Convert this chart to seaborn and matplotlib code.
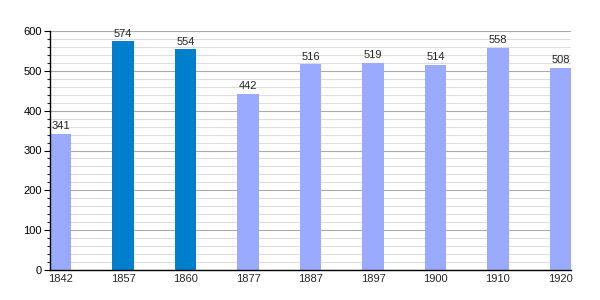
import matplotlib
matplotlib.use("Agg")
import matplotlib.pyplot as plt
import seaborn as sns
import pandas as pd
from matplotlib.ticker import MultipleLocator

years = ["1842", "1857", "1860", "1877", "1887", "1897", "1900", "1910", "1920"]
values = [341, 574, 554, 442, 516, 519, 514, 558, 508]
colors = ["#99aaff", "#0080cc", "#0080cc", "#99aaff", "#99aaff", "#99aaff", "#99aaff", "#99aaff", "#99aaff"]

sns.set_style("white")
plt.rcParams['font.family'] = ['Liberation Sans', 'DejaVu Sans']

df = pd.DataFrame({"year": years, "value": values})
fig = plt.figure(figsize=(6, 3), dpi=100)
ax = fig.add_axes([50/600, 30/300, 521/600, 239/300])
sns.barplot(data=df, x="year", y="value", hue="year", palette=colors, legend=False,
            width=0.34, ax=ax, saturation=1, order=years, hue_order=years, linewidth=0)
for c in ax.containers:
    ax.bar_label(c, padding=2, fontsize=8)

ax.set_xlim(-0.17, 8.17)
ax.set_ylim(0, 600)
ax.yaxis.set_major_locator(MultipleLocator(100))
ax.yaxis.set_minor_locator(MultipleLocator(20))
ax.grid(True, which="major", axis="y", color="#aaaaaa", linewidth=0.8)
ax.grid(True, which="minor", axis="y", color="#dddddd", linewidth=0.8)
ax.set_axisbelow(True)
for s in ["top", "right"]:
    ax.spines[s].set_visible(False)
for s in ["left", "bottom"]:
    ax.spines[s].set_color("black")
    ax.spines[s].set_linewidth(1)
ax.tick_params(axis="y", which="major", length=4, width=0.8, direction="out", left=True, labelsize=8, pad=2, colors="black")
ax.tick_params(axis="y", which="minor", length=2, width=0.8, direction="out", left=True)
ax.tick_params(axis="x", length=0, labelsize=8, pad=3)
ax.set_xlabel("")
ax.set_ylabel("")
fig.savefig("out.png", dpi=100)
